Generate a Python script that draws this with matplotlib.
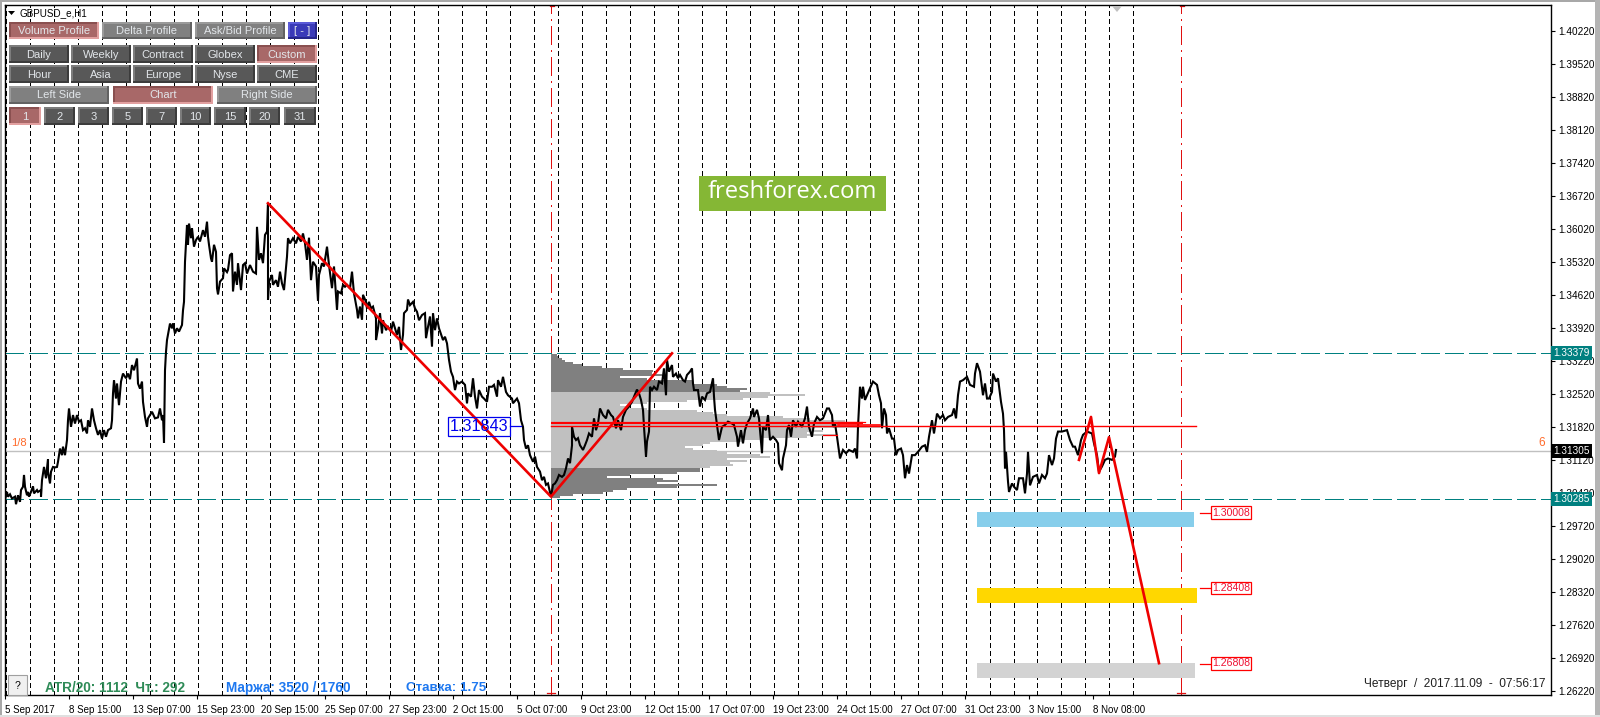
import matplotlib
matplotlib.use("Agg")
import matplotlib.pyplot as plt
import numpy as np
from matplotlib.patches import Polygon, Rectangle

plt.rcParams["font.family"] = ["Liberation Sans", "DejaVu Sans"]
plt.rcParams["lines.scale_dashes"] = False

# GBPUSD H1 path (bar number, price)
price_bars = [
    0, 2, 3, 5, 7, 10, 11, 13, 15, 16, 18, 19, 20, 22, 23, 24, 26, 28, 29, 32, 33, 36, 36, 37, 39, 41, 43, 43, 45, 46,
    48, 50, 52, 53, 55, 57, 58, 60, 62, 63, 64, 66, 68, 70, 72, 74, 76, 78, 80, 82, 83, 85, 87, 89, 91, 93, 95, 97, 99, 101,
    103, 106, 107, 108, 109, 111, 112, 114, 116, 118, 121, 123, 125, 127, 129, 132, 133, 135, 137, 138, 140, 142, 143, 147, 150, 153, 155, 157, 158, 159,
    160, 161, 162, 165, 167, 168, 170, 172, 174, 177, 178, 179, 180, 182, 183, 184, 186, 187, 189, 191, 193, 195, 198, 200, 202, 203, 204, 206, 207, 209,
    211, 212, 213, 215, 218, 219, 222, 223, 225, 227, 228, 230, 232, 233, 236, 238, 240, 242, 245, 248, 251, 252, 254, 256, 258, 260, 262, 263, 263, 264,
    267, 268, 271, 273, 275, 277, 279, 282, 283, 285, 288, 291, 293, 296, 298, 300, 302, 304, 306, 308, 311, 313, 314, 317, 319, 322, 324, 327, 329, 332,
    333, 336, 338, 340, 342, 345, 347, 349, 352, 353, 355, 357, 358, 361, 362, 364, 366, 368, 371, 371, 373, 375, 377, 378, 381, 383, 386, 388, 390, 392,
    394, 396, 398, 399, 402, 403, 405, 408, 410, 412, 414, 417, 420, 421, 423, 425, 427, 428, 430, 432, 434, 438, 440, 442, 444, 446, 448, 450, 452, 454,
    457, 460, 462, 463, 466, 468, 470, 472, 474, 477, 479, 482, 484, 487, 489, 492, 493, 496, 498, 501, 503, 507, 508, 512, 514, 516, 518, 519, 521, 523,
    525, 528, 530, 532, 535, 537, 539, 541, 543, 546, 548, 550, 552, 554, 557, 559, 561, 563, 565, 567, 567, 569, 571, 573, 575, 578, 580, 582, 584, 587,
    589, 591, 593, 595, 598, 601, 603, 606, 608, 611, 613, 616, 618, 621, 624, 627, 629, 632, 634, 636, 638, 639, 641, 642, 644, 645, 647, 649, 652, 654,
    657, 659, 661, 662, 664, 667, 668, 671, 673, 675, 678, 680, 682, 685, 687, 688, 689, 693, 695, 697, 700, 702, 705, 708, 709, 710, 712, 714, 717, 720,
    723, 727, 729, 732, 733, 736, 738, 740, 742, 745, 748, 749, 752, 754, 757, 758, 761, 763, 765, 768, 771, 773, 774, 777, 778, 781, 782, 784, 786, 788,
    791, 793, 797, 800, 802, 804, 807, 809, 812, 815, 818, 822, 824, 827, 828, 830, 832, 835, 838, 841, 844, 848, 850, 852, 853, 855, 857, 858, 860, 862,
    865, 868, 872, 874, 876, 877, 879, 881, 882, 884, 887, 889, 891, 893, 896, 898, 900, 902, 904, 907, 910, 913, 917, 920, 922, 924, 927, 929, 932, 935,
    938, 940, 943, 947, 949, 951, 953, 955, 958, 962, 965, 969, 970, 972, 975, 978, 980, 982, 984, 987, 988, 991, 993, 996, 998, 999, 1000, 1001, 1003, 1004,
    1007, 1009, 1012, 1014, 1018, 1020, 1022, 1023, 1025, 1028, 1032, 1034, 1037, 1040, 1042, 1044, 1047, 1049, 1051, 1053, 1057, 1062, 1065, 1068, 1070, 1073, 1076, 1078, 1082, 1087,
    1089, 1092, 1094, 1097, 1100, 1103, 1107, 1110, 1111,
]
price_vals = [
    1.3027, 1.3044, 1.3034, 1.3039, 1.3030, 1.3034, 1.3018, 1.3037, 1.3023, 1.3048, 1.3055, 1.3080, 1.3055, 1.3037, 1.3044, 1.3034, 1.3044, 1.3056, 1.3041, 1.3048, 1.3044, 1.3048, 1.3034, 1.3069, 1.3097, 1.3073, 1.3113, 1.3087, 1.3062, 1.3087,
    1.3097, 1.3096, 1.3097, 1.3108, 1.3136, 1.3122, 1.3140, 1.3122, 1.3154, 1.3196, 1.3221, 1.3182, 1.3207, 1.3189, 1.3207, 1.3193, 1.3196, 1.3175, 1.3179, 1.3168, 1.3196, 1.3182, 1.3221, 1.3196, 1.3179, 1.3165, 1.3175, 1.3157, 1.3175, 1.3161,
    1.3175, 1.3179, 1.3196, 1.3253, 1.3281, 1.3242, 1.3274, 1.3228, 1.3278, 1.3295, 1.3285, 1.3295, 1.3283, 1.3313, 1.3302, 1.3327, 1.3274, 1.3263, 1.3278, 1.3235, 1.3203, 1.3182, 1.3200, 1.3214, 1.3200, 1.3202, 1.3221, 1.3196, 1.3207, 1.3148,
    1.3302, 1.3341, 1.3366, 1.3401, 1.3391, 1.3401, 1.3380, 1.3391, 1.3384, 1.3398, 1.3429, 1.3447, 1.3532, 1.3610, 1.3568, 1.3613, 1.3582, 1.3603, 1.3564, 1.3578, 1.3585, 1.3575, 1.3599, 1.3585, 1.3617, 1.3585, 1.3568, 1.3539, 1.3532, 1.3568,
    1.3553, 1.3476, 1.3463, 1.3490, 1.3497, 1.3518, 1.3510, 1.3515, 1.3546, 1.3550, 1.3469, 1.3511, 1.3483, 1.3529, 1.3472, 1.3525, 1.3529, 1.3507, 1.3525, 1.3511, 1.3507, 1.3606, 1.3536, 1.3550, 1.3529, 1.3589, 1.3596, 1.3656, 1.3451, 1.3490,
    1.3504, 1.3483, 1.3493, 1.3479, 1.3511, 1.3486, 1.3472, 1.3543, 1.3582, 1.3571, 1.3582, 1.3571, 1.3585, 1.3575, 1.3592, 1.3571, 1.3536, 1.3583, 1.3493, 1.3532, 1.3522, 1.3449, 1.3504, 1.3529, 1.3522, 1.3564, 1.3525, 1.3476, 1.3522, 1.3430,
    1.3469, 1.3465, 1.3483, 1.3479, 1.3483, 1.3476, 1.3511, 1.3465, 1.3430, 1.3412, 1.3437, 1.3409, 1.3462, 1.3447, 1.3433, 1.3447, 1.3433, 1.3437, 1.3412, 1.3366, 1.3391, 1.3423, 1.3380, 1.3408, 1.3387, 1.3394, 1.3384, 1.3405, 1.3391, 1.3377,
    1.3394, 1.3345, 1.3377, 1.3423, 1.3430, 1.3452, 1.3440, 1.3447, 1.3433, 1.3426, 1.3408, 1.3419, 1.3423, 1.3370, 1.3394, 1.3416, 1.3352, 1.3423, 1.3387, 1.3412, 1.3391, 1.3366, 1.3373, 1.3359, 1.3324, 1.3299, 1.3288, 1.3260, 1.3278, 1.3274,
    1.3278, 1.3271, 1.3232, 1.3253, 1.3246, 1.3285, 1.3246, 1.3221, 1.3260, 1.3246, 1.3242, 1.3235, 1.3267, 1.3267, 1.3271, 1.3246, 1.3281, 1.3267, 1.3288, 1.3256, 1.3249, 1.3242, 1.3232, 1.3242, 1.3232, 1.3196, 1.3182, 1.3154, 1.3136, 1.3143,
    1.3122, 1.3108, 1.3119, 1.3097, 1.3087, 1.3069, 1.3076, 1.3059, 1.3062, 1.3034, 1.3059, 1.3062, 1.3069, 1.3080, 1.3076, 1.3080, 1.3094, 1.3115, 1.3105, 1.3143, 1.3182, 1.3161, 1.3154, 1.3158, 1.3143, 1.3133, 1.3143, 1.3154, 1.3168, 1.3161,
    1.3200, 1.3175, 1.3189, 1.3221, 1.3207, 1.3200, 1.3218, 1.3207, 1.3203, 1.3179, 1.3196, 1.3175, 1.3203, 1.3218, 1.3225, 1.3235, 1.3246, 1.3261, 1.3253, 1.3239, 1.3218, 1.3182, 1.3119, 1.3151, 1.3172, 1.3267, 1.3260, 1.3267, 1.3260, 1.3278,
    1.3274, 1.3306, 1.3249, 1.3324, 1.3299, 1.3313, 1.3288, 1.3295, 1.3285, 1.3292, 1.3281, 1.3278, 1.3292, 1.3299, 1.3306, 1.3274, 1.3260, 1.3260, 1.3225, 1.3246, 1.3239, 1.3253, 1.3256, 1.3285, 1.3246, 1.3218, 1.3186, 1.3154, 1.3182, 1.3186,
    1.3193, 1.3189, 1.3186, 1.3161, 1.3140, 1.3175, 1.3147, 1.3175, 1.3189, 1.3200, 1.3221, 1.3203, 1.3218, 1.3200, 1.3126, 1.3182, 1.3175, 1.3207, 1.3154, 1.3161, 1.3154, 1.3147, 1.3105, 1.3090, 1.3115, 1.3143, 1.3175, 1.3186, 1.3161, 1.3196,
    1.3182, 1.3193, 1.3182, 1.3200, 1.3225, 1.3182, 1.3161, 1.3189, 1.3203, 1.3196, 1.3200, 1.3221, 1.3221, 1.3207, 1.3182, 1.3189, 1.3161, 1.3115, 1.3133, 1.3126, 1.3133, 1.3129, 1.3136, 1.3115, 1.3182, 1.3267, 1.3242, 1.3267, 1.3239, 1.3249,
    1.3264, 1.3278, 1.3271, 1.3249, 1.3232, 1.3179, 1.3221, 1.3207, 1.3168, 1.3179, 1.3157, 1.3157, 1.3122, 1.3133, 1.3136, 1.3122, 1.3073, 1.3101, 1.3083, 1.3122, 1.3122, 1.3129, 1.3140, 1.3143, 1.3129, 1.3161, 1.3196, 1.3168, 1.3210, 1.3200,
    1.3207, 1.3196, 1.3203, 1.3207, 1.3221, 1.3200, 1.3249, 1.3278, 1.3281, 1.3288, 1.3271, 1.3267, 1.3295, 1.3317, 1.3299, 1.3249, 1.3274, 1.3242, 1.3242, 1.3256, 1.3295, 1.3278, 1.3285, 1.3235, 1.3210, 1.3175, 1.3094, 1.3129, 1.3066, 1.3044,
    1.3062, 1.3055, 1.3048, 1.3073, 1.3073, 1.3041, 1.3083, 1.3129, 1.3058, 1.3076, 1.3080, 1.3062, 1.3080, 1.3073, 1.3083, 1.3122, 1.3101, 1.3115, 1.3157, 1.3172, 1.3172, 1.3175, 1.3154, 1.3140, 1.3140, 1.3122, 1.3154, 1.3165, 1.3172, 1.3168,
    1.3147, 1.3122, 1.3087, 1.3098, 1.3112, 1.3115, 1.3112, 1.3119, 1.3133,
]

# red wave lines on the chart
wave_bars = [263, 546, 667]
wave_vals = [1.3656, 1.3034, 1.33379]
fore_bars = [1074, 1086, 1094, 1104, 1154]
fore_vals = [1.3112, 1.3203, 1.3084, 1.3160, 1.2681]

# volume profile, one row per price step, top row first
profile_top = 1.3334
profile_step = 0.000424
profile_volume = [
    6, 7, 11, 14, 22, 31, 51, 72, 102, 101, 111, 69, 96, 142, 142, 166, 176, 196, 189,
    219, 254, 217, 192, 136, 96, 69, 79, 96, 146, 162, 176, 232, 259, 294, 312, 289, 329, 262, 272,
    256, 286, 256, 212, 192, 159, 152, 134, 142, 166, 176, 209, 219, 176, 196, 179, 182, 159,
    149, 149, 126, 79, 56, 112, 127, 106, 166, 126, 76, 62, 52, 22, 9,
]
profile_start = 546
value_area_high = 1.32545
value_area_low = 1.30950
poc_price = 1.3191

level_prices = [1.33379, 1.30285]
current_price = 1.31305
pivot_price = 1.31843
target_prices = [1.30008, 1.28408, 1.26808]
target_colors = ["#87ceeb", "#ffd700", "#d3d3d3"]
target_height = 0.00318
target_start = 972
target_ends = [1189, 1192, 1190]

day_starts = [1 + 24 * i for i in range(43)] + [1032, 1056, 1080, 1104, 1128]
range_bars = [546, 1176]

y_ticks = [1.2622 + 0.007 * i for i in range(21)]
x_ticks = [64 * i for i in range(18)]
x_labels = [
    "5 Sep 2017", "8 Sep 15:00", "13 Sep 07:00", "15 Sep 23:00", "20 Sep 15:00", "25 Sep 07:00",
    "27 Sep 23:00", "2 Oct 15:00", "5 Oct 07:00", "9 Oct 23:00", "12 Oct 15:00", "17 Oct 07:00",
    "19 Oct 23:00", "24 Oct 15:00", "27 Oct 07:00", "31 Oct 23:00", "3 Nov 15:00", "8 Nov 08:00",
]

fig = plt.figure(figsize=(16, 7.17), dpi=100, facecolor="white")
W, H = 1600.0, 717.0
L, R, T, B = 5.0, 1551.0, 5.0, 695.0
ax = fig.add_axes([L / W, 1 - B / H, (R - L) / W, (B - T) / H])
ax.set_xlim(0, R - L)
# 1 px = 0.000212 of price, 1.26220 sits at y=691
ax.set_ylim(1.2622 - (B - 691) * 0.000212, 1.2622 + (691 - T) * 0.000212)

for s in ax.spines.values():
    s.set_linewidth(1.0)
    s.set_color("black")
ax.yaxis.tick_right()
ax.set_yticks(y_ticks)
ax.set_yticklabels(["%.5f" % v for v in y_ticks], fontsize=7.2)
ax.set_xticks(x_ticks)
ax.set_xticklabels(x_labels, fontsize=7.0, ha="left")
ax.tick_params(axis="both", length=3, width=0.8, pad=2.5)
ax.tick_params(axis="x", pad=4)

# day separators, level lines
for d in day_starts:
    ax.axvline(d, color="black", lw=0.8, ls=(0, (3.0, 2.6)), antialiased=False, zorder=1)
ax.axhline(current_price, color="#c0c0c0", lw=1.0, zorder=1)
for b in range_bars:
    ax.axvline(b, color="#e01010", lw=0.9, ls=(0, (13, 3.6, 1.4, 3.6)), antialiased=False, zorder=1)
    ax.plot([b - 1.5, b + 3], [ax.get_ylim()[1] - 0.0002] * 2, color="#e01010", lw=0.9, zorder=1)
    ax.plot([b - 4, b + 4], [1.2617, 1.2617], color="#e01010", lw=0.9, zorder=1)

# volume profile
row_prices = profile_top - profile_step * np.arange(len(profile_volume))
row_colors = np.where((row_prices < value_area_high) & (row_prices > value_area_low), "#c0c0c0", "#808080")
ax.barh(row_prices, profile_volume, height=profile_step, left=profile_start, color=row_colors, linewidth=0, zorder=2)
ax.plot([profile_start, 858], [poc_price, poc_price], color="red", lw=1.6, solid_capstyle="butt", zorder=5)
ax.plot([profile_start, 1191], [pivot_price, pivot_price], color="red", lw=1.0, zorder=5)
ax.plot([818, 832], [1.3164, 1.3164], color="red", lw=0.9, zorder=5)
ax.plot([833, 875], [1.3186, 1.3186], color="red", lw=1.2, zorder=5)
ax.plot([833, 860], [1.3193, 1.3193], color="red", lw=0.9, zorder=5)

for lv in level_prices:
    ax.axhline(lv, color="#008080", lw=0.9, ls=(0, (13, 4.3)), antialiased=False, zorder=2)

# target boxes
for p, c, e in zip(target_prices, target_colors, target_ends):
    ax.add_patch(Rectangle((target_start, p - target_height), e - target_start, target_height, color=c, lw=0, zorder=2))

ax.plot(price_bars, price_vals, color="black", lw=1.5, solid_joinstyle="miter", zorder=3)
ax.plot(wave_bars, wave_vals, color="#ee0000", lw=1.9, zorder=4)
ax.plot(fore_bars, fore_vals, color="#ee0000", lw=1.9, zorder=4)

# price flags on the right scale
ytr = ax.get_yaxis_transform()
for p, bg in [(level_prices[0], "#008080"), (current_price, "black"), (level_prices[1], "#008080")]:
    ax.text(1.0016, p, "%.5f" % p, transform=ytr, fontsize=7.2, color="white", va="center", ha="left", zorder=20,
            clip_on=False, bbox=dict(boxstyle="square,pad=0.2", fc=bg, ec=bg, lw=0))

# overlay in pixel coordinates for the terminal controls
ov = fig.add_axes([0, 0, 1, 1], zorder=5)
ov.set_xlim(0, W)
ov.set_ylim(H, 0)
ov.axis("off")
ov.patch.set_alpha(0)

STYLES = {
    "dark": ("#585858", "#7c7c7c", "#3c3c3c"),
    "grey": ("#808080", "#9a9a9a", "#626262"),
    "on": ("#a86868", "#8a5050", "#e2a0a0"),
    "blue": ("#3a3ab8", "#5a5ad8", "#26268a"),
}


def button(x0, x1, y0, y1, text, kind="dark"):
    face, hi, lo = STYLES[kind]
    ov.add_patch(Rectangle((x0, y0), x1 - x0, y1 - y0, fc=face, ec="none"))
    ov.add_patch(Rectangle((x0, y0), x1 - x0, 2, fc=hi, ec="none"))
    ov.add_patch(Rectangle((x0, y0), 2, y1 - y0, fc=hi, ec="none"))
    ov.add_patch(Rectangle((x0, y1 - 2), x1 - x0, 2, fc=lo, ec="none"))
    ov.add_patch(Rectangle((x1 - 2, y0), 2, y1 - y0, fc=lo, ec="none"))
    ov.text((x0 + x1) / 2, (y0 + y1) / 2 + 0.5, text, color="#e2e6ea", fontsize=8.0, ha="center", va="center")


button(9, 99, 22, 39, "Volume Profile", "on")
button(102, 192, 22, 39, "Delta Profile", "grey")
button(195, 285, 22, 39, "Ask/Bid Profile", "grey")
button(288, 317, 22, 39, "[ - ]", "blue")
for x0, x1, top, bottom, kind in [(9, 69, "Daily", "Hour", "dark"), (71, 131, "Weekly", "Asia", "dark"),
                                  (133, 193, "Contract", "Europe", "dark"), (195, 255, "Globex", "Nyse", "dark"),
                                  (257, 317, "Custom", "CME", "on")]:
    button(x0, x1, 45, 63, top, kind)
    button(x0, x1, 65, 83, bottom)
button(9, 109, 86, 104, "Left Side", "grey")
button(113, 213, 86, 104, "Chart", "on")
button(217, 317, 86, 104, "Right Side", "grey")
for x0, x1, t, kind in [(9, 41, "1", "on"), (44, 75, "2", "dark"), (78, 109, "3", "dark"), (112, 143, "5", "dark"),
                        (146, 177, "7", "dark"), (180, 211, "10", "dark"), (214, 246, "15", "dark"),
                        (249, 280, "20", "dark"), (284, 316, "31", "dark")]:
    button(x0, x1, 107, 125, t, kind)

ov.add_patch(Polygon([[8, 11], [15, 11], [11.5, 15]], fc="black", ec="none"))
ov.text(20, 13, "GBPUSD_e,H1", fontsize=7.1, color="black", va="center")
ov.add_patch(Polygon([[1112, 6], [1122, 6], [1117, 12]], fc="#c0c0c0", ec="none"))

ov.add_patch(Rectangle((8, 675), 19, 20, fc="#f0f0f0", ec="#a0a0a0", lw=0.8))
ov.text(17.5, 686, "?", fontsize=7.5, color="black", ha="center", va="center")

ov.text(45, 688, "ATR/20: 1112  Чт.: 292", fontsize=9.8, fontweight="bold", color="#2e8b57", va="center")
ov.text(226, 688, "Маржа: 3520 / 1760", fontsize=9.8, fontweight="bold", color="#1e78f0", va="center")
ov.text(406, 688, "Ставка: 1.75", fontsize=9.6, fontweight="bold", color="#1e78f0", va="center")
ov.text(1546, 684, "Четверг  /  2017.11.09  -  07:56:17", fontsize=8.6, color="#202020", ha="right", va="center")

ov.text(11, 443, "1/8", fontsize=8, color="#ff6a2a", va="center")
ov.text(1542, 443, "6", fontsize=8.5, color="#ff6a2a", ha="center", va="center")

# pivot label
ov.add_patch(Rectangle((448, 417), 62, 19, fc="none", ec="#0000ee", lw=0.9))
ov.plot([510, 521], [426, 426], color="#0000ee", lw=0.9)
ov.text(479, 426.5, "%.5f" % pivot_price, fontsize=11.6, color="#0000ee", ha="center", va="center")

# target labels
for p, yc in zip(target_prices, [512.5, 588, 663.5]):
    ov.plot([1200, 1210], [yc, yc], color="red", lw=0.9)
    ov.text(1231, yc, "%.5f" % p, fontsize=7.6, color="#ee1133", ha="center", va="center",
            bbox=dict(boxstyle="square,pad=0.12", fc="white", ec="red", lw=0.9))

# logo
ov.add_patch(Rectangle((699, 176), 187, 35, fc="#85b735", ec="none"))
ov.text(792.5, 192.5, "freshforex.com", fontsize=17.2, color="white", ha="center", va="center", family="Open Sans")

# window frame
ov.add_patch(Rectangle((0, 0), 2, H, fc="#a8a8a8", ec="none"))
ov.add_patch(Rectangle((0, 0), W, 2, fc="#a8a8a8", ec="none"))
ov.add_patch(Rectangle((1595, 0), 5, H, fc="#b4b4b4", ec="none"))
ov.add_patch(Rectangle((0, 715), W, 2, fc="#e0e0e0", ec="none"))

fig.savefig("out.png", dpi=100)
